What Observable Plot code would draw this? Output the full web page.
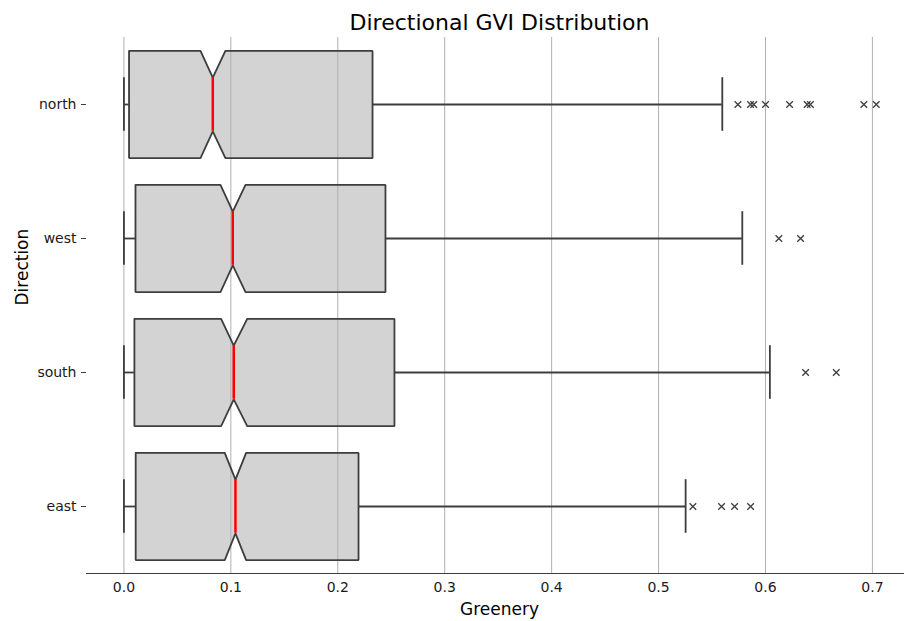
<!DOCTYPE html>
<html>
<head>
<meta charset="utf-8">
<script src="https://cdn.jsdelivr.net/npm/d3@7"></script>
<script src="https://cdn.jsdelivr.net/npm/@observablehq/plot@0.6"></script>
<style>
  html, body { margin: 0; padding: 0; background: #ffffff; }
</style>
</head>
<body>
<div id="chart"></div>
<script>
const directions = ["north", "west", "south", "east"];
const whiskerLow = [0, 0, 0, 0];
const q1 = [0.0048, 0.0108, 0.0098, 0.0110];
const median = [0.0831, 0.1018, 0.1027, 0.1043];
const q3 = [0.2325, 0.2446, 0.2530, 0.2194];
const whiskerHigh = [0.5596, 0.5783, 0.6041, 0.5253];
const notchLo = [0.0716, 0.0903, 0.0909, 0.0943];
const notchHi = [0.0949, 0.1137, 0.1153, 0.1143];
const outliersNorth = [0.5742, 0.586, 0.589, 0.600, 0.6225, 0.639, 0.642, 0.692, 0.7036];
const outliersWest = [0.6125, 0.6328];
const outliersSouth = [0.6375, 0.6662];
const outliersEast = [0.5321, 0.5589, 0.5711, 0.5861];
const xTicks = [0.0, 0.1, 0.2, 0.3, 0.4, 0.5, 0.6, 0.7];
const xDomain = [-0.035, 0.73];
const yDomain = [-0.5, 3.5];

const H = 0.4;   // half box height (band units)
const HN = 0.2;  // half height at notch

const rows = directions.map((d, i) => ({
  i, d, lo: whiskerLow[i], q1: q1[i], med: median[i], q3: q3[i],
  hi: whiskerHigh[i], nlo: notchLo[i], nhi: notchHi[i]
}));

const areaPts = rows.flatMap(r => [
  {i: r.i, x: r.q1, y1: r.i - H, y2: r.i + H},
  {i: r.i, x: r.nlo, y1: r.i - H, y2: r.i + H},
  {i: r.i, x: r.med, y1: r.i - HN, y2: r.i + HN},
  {i: r.i, x: r.nhi, y1: r.i - H, y2: r.i + H},
  {i: r.i, x: r.q3, y1: r.i - H, y2: r.i + H}
]);

const outlinePts = rows.flatMap(r => [
  [r.q1, r.i - H], [r.nlo, r.i - H], [r.med, r.i - HN], [r.nhi, r.i - H], [r.q3, r.i - H],
  [r.q3, r.i + H], [r.nhi, r.i + H], [r.med, r.i + HN], [r.nlo, r.i + H], [r.q1, r.i + H],
  [r.q1, r.i - H]
].map(([x, y]) => ({i: r.i, x, y})));

const outlierSets = [outliersNorth, outliersWest, outliersSouth, outliersEast];
const outliers = outlierSets.flatMap((arr, i) => arr.map(x => ({i, x})));

const dark = "#3d3d3d";

const chart = Plot.plot({
  width: 905,
  height: 621,
  marginLeft: 86,
  marginRight: 1,
  marginTop: 37,
  marginBottom: 48,
  style: {fontFamily: "DejaVu Sans", fontSize: "14px", background: "#ffffff", color: "#1a1a1a"},
  x: {domain: xDomain, label: null},
  y: {domain: yDomain, reverse: true, label: null},
  marks: [
    Plot.areaY(areaPts, {x: "x", y1: "y1", y2: "y2", z: "i", fill: "#d3d3d3", curve: "linear"}),
    Plot.gridX(xTicks, {stroke: "#b0b0b0", strokeOpacity: 1, strokeWidth: 1}),
    Plot.ruleY(rows, {y: "i", x1: "lo", x2: "q1", stroke: dark, strokeWidth: 1.8}),
    Plot.ruleY(rows, {y: "i", x1: "q3", x2: "hi", stroke: dark, strokeWidth: 1.8}),
    Plot.ruleX(rows, {x: "lo", y1: r => r.i - HN, y2: r => r.i + HN, stroke: dark, strokeWidth: 1.8}),
    Plot.ruleX(rows, {x: "hi", y1: r => r.i - HN, y2: r => r.i + HN, stroke: dark, strokeWidth: 1.8}),
    Plot.line(outlinePts, {x: "x", y: "y", z: "i", stroke: dark, strokeWidth: 1.8, strokeLinejoin: "miter", curve: "linear"}),
    Plot.ruleX(rows, {x: "med", y1: r => r.i - HN, y2: r => r.i + HN, stroke: "#ff0000", strokeWidth: 2.5}),
    Plot.dot(outliers, {x: "x", y: "i", symbol: "times", r: 3.1, stroke: dark, strokeWidth: 1.3}),
    Plot.ruleY([yDomain[1]], {stroke: dark, strokeWidth: 1.2}),
    Plot.axisX({ticks: xTicks, tickFormat: d3.format(".1f"), tickSize: 0, tickPadding: 9, fontSize: 14, label: null}),
    Plot.axisY({ticks: d3.range(directions.length), tickFormat: i => directions[i], tickSize: 5, tickPadding: 5, fontSize: 14, label: null, stroke: dark}),
    Plot.text(["Directional GVI Distribution"], {frameAnchor: "top", dy: -15, dx: 4, fontSize: 22, fill: "#000000", lineAnchor: "middle"}),
    Plot.text(["Greenery"], {frameAnchor: "bottom", dy: 36, dx: 4, fontSize: 17, fill: "#000000", lineAnchor: "middle"}),
    Plot.text(["Direction"], {frameAnchor: "left", dx: -64, rotate: -90, fontSize: 17, fill: "#000000", lineAnchor: "middle"})
  ]
});

document.getElementById("chart").appendChild(chart);
</script>
</body>
</html>
